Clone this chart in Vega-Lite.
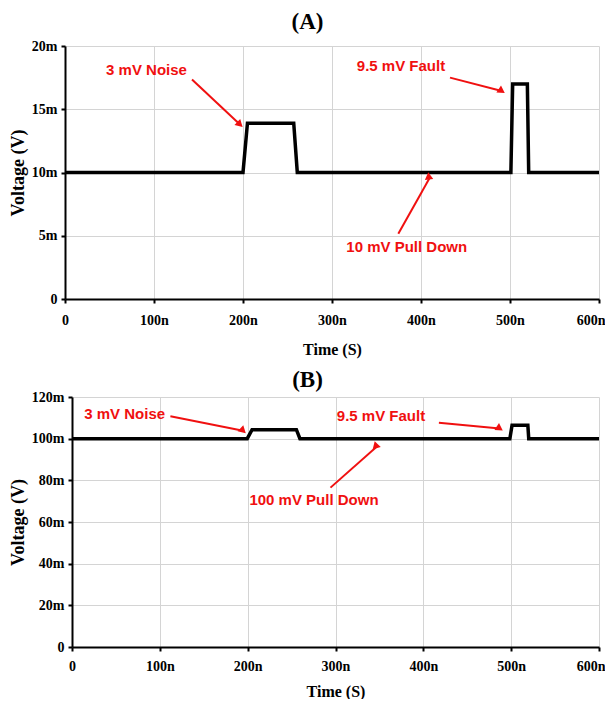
{
  "$schema": "https://vega.github.io/schema/vega-lite/v6.json",
  "background": "white",
  "padding": {"left": 9, "top": 11, "right": 0, "bottom": 0},
  "datasets": {
    "lineA": [
      {"t": 0, "v": 10}, {"t": 200, "v": 10}, {"t": 205, "v": 13.9}, {"t": 257, "v": 13.9}, {"t": 261, "v": 10},
      {"t": 501, "v": 10}, {"t": 503, "v": 17}, {"t": 519.5, "v": 17}, {"t": 521, "v": 10}, {"t": 600, "v": 10}
    ],
    "lineB": [
      {"t": 0, "v": 100}, {"t": 199.5, "v": 100}, {"t": 205, "v": 104.3}, {"t": 255.5, "v": 104.3}, {"t": 259.5, "v": 100},
      {"t": 498.5, "v": 100}, {"t": 501, "v": 106.4}, {"t": 519, "v": 106.4}, {"t": 520, "v": 100}, {"t": 600, "v": 100}
    ],
    "annA": [
      {"label": "3 mV Noise", "tx": 91.6, "ty": 18.1, "x1": 142.7, "y1": 17.35, "x2": 196.6, "y2": 13.8},
      {"label": "9.5 mV Fault", "tx": 377.5, "ty": 18.4, "x1": 432.6, "y1": 17.5, "x2": 490.7, "y2": 16.45},
      {"label": "10 mV Pull Down", "tx": 384, "ty": 4.1, "x1": 374.5, "y1": 5.15, "x2": 410, "y2": 9.6}
    ],
    "annB": [
      {"label": "3 mV Noise", "tx": 60, "ty": 111.8, "x1": 112, "y1": 110.8, "x2": 194.8, "y2": 103.8},
      {"label": "9.5 mV Fault", "tx": 351.8, "ty": 110.8, "x1": 417.7, "y1": 107.6, "x2": 487, "y2": 104.9},
      {"label": "100 mV Pull Down", "tx": 275.5, "ty": 70.4, "x1": 294.3, "y1": 76.5, "x2": 347.5, "y2": 96.4}
    ]
  },
  "spacing": 12,
  "vconcat": [
    {
      "title": {"text": "(A)", "fontSize": 23, "font": "Liberation Serif", "fontWeight": "bold", "color": "black", "frame": "bounds", "anchor": "middle", "offset": 5},
      "width": 527,
      "height": 253,
      "layer": [
        {
          "data": {"name": "lineA"},
          "mark": {"type": "line", "color": "black", "strokeWidth": 3.5, "strokeJoin": "miter"},
          "encoding": {
            "x": {"field": "t", "type": "quantitative", "title": "Time (S)", "scale": {"domain": [0, 600], "nice": false, "range": [-7, 527]},
                  "axis": {"values": [0, 100, 200, 300, 400, 500, 600], "labelExpr": "datum.value == 0 ? '0' : datum.value + 'n'",
                           "labelAlign": {"condition": {"test": "datum.value == 600", "value": "right"}, "value": "center"},
                           "labelOffset": {"condition": {"test": "datum.value == 600", "value": 6}, "value": 0},
                           "labelPadding": 10, "titlePadding": 14, "titleFontSize": 16}},
            "y": {"field": "v", "type": "quantitative", "title": "Voltage (V)", "scale": {"domain": [0, 20], "nice": false},
                  "axis": {"values": [0, 5, 10, 15, 20], "labelExpr": "datum.value == 0 ? '0' : datum.value + 'm'", "labelPadding": 4, "offset": 7, "titleX": -38}}
          }
        },
        {
          "data": {"name": "annA"},
          "mark": {"type": "rule", "color": "#f01010", "strokeWidth": 2},
          "encoding": {
            "x": {"field": "x1", "type": "quantitative", "title": "Time (S)"},
            "y": {"field": "y1", "type": "quantitative", "title": "Voltage (V)"},
            "x2": {"field": "x2"},
            "y2": {"field": "y2"}
          }
        },
        {
          "data": {"name": "annA"},
          "mark": {"type": "point", "shape": "triangle-right", "filled": true, "color": "#f01010", "size": 70, "opacity": 1},
          "encoding": {
            "x": {"field": "x2", "type": "quantitative", "title": "Time (S)"},
            "y": {"field": "y2", "type": "quantitative", "title": "Voltage (V)"},
            "angle": {"field": "label", "type": "nominal", "legend": null,
                      "scale": {"domain": ["3 mV Noise", "9.5 mV Fault", "10 mV Pull Down"], "range": [43, 14, 299]}}
          }
        },
        {
          "data": {"name": "annA"},
          "mark": {"type": "text", "color": "#f01010", "font": "Liberation Sans", "fontWeight": "bold", "fontSize": 15, "align": "center", "baseline": "middle"},
          "encoding": {
            "x": {"field": "tx", "type": "quantitative", "title": "Time (S)"},
            "y": {"field": "ty", "type": "quantitative", "title": "Voltage (V)"},
            "text": {"field": "label"}
          }
        }
      ]
    },
    {
      "title": {"text": "(B)", "fontSize": 23, "font": "Liberation Serif", "fontWeight": "bold", "color": "black", "frame": "bounds", "anchor": "middle", "offset": -2},
      "width": 527,
      "height": 250,
      "layer": [
        {
          "data": {"name": "lineB"},
          "mark": {"type": "line", "color": "black", "strokeWidth": 3.5, "strokeJoin": "miter"},
          "encoding": {
            "x": {"field": "t", "type": "quantitative", "title": "Time (S)", "scale": {"domain": [0, 600], "nice": false},
                  "axis": {"values": [0, 100, 200, 300, 400, 500, 600], "labelExpr": "datum.value == 0 ? '0' : datum.value + 'n'",
                           "labelAlign": {"condition": {"test": "datum.value == 600", "value": "right"}, "value": "center"},
                           "labelOffset": {"condition": {"test": "datum.value == 600", "value": 6}, "value": 0},
                           "labelPadding": 8, "titlePadding": 10, "titleFontSize": 16}},
            "y": {"field": "v", "type": "quantitative", "title": "Voltage (V)", "scale": {"domain": [0, 120], "nice": false},
                  "axis": {"values": [0, 20, 40, 60, 80, 100, 120], "labelExpr": "datum.value == 0 ? '0' : datum.value + 'm'", "labelPadding": 4, "titleX": -45}}
          }
        },
        {
          "data": {"name": "annB"},
          "mark": {"type": "rule", "color": "#f01010", "strokeWidth": 2},
          "encoding": {
            "x": {"field": "x1", "type": "quantitative", "title": "Time (S)"},
            "y": {"field": "y1", "type": "quantitative", "title": "Voltage (V)"},
            "x2": {"field": "x2"},
            "y2": {"field": "y2"}
          }
        },
        {
          "data": {"name": "annB"},
          "mark": {"type": "point", "shape": "triangle-right", "filled": true, "color": "#f01010", "size": 70, "opacity": 1},
          "encoding": {
            "x": {"field": "x2", "type": "quantitative", "title": "Time (S)"},
            "y": {"field": "y2", "type": "quantitative", "title": "Voltage (V)"},
            "angle": {"field": "label", "type": "nominal", "legend": null,
                      "scale": {"domain": ["3 mV Noise", "9.5 mV Fault", "100 mV Pull Down"], "range": [11, 5, 318]}}
          }
        },
        {
          "data": {"name": "annB"},
          "mark": {"type": "text", "color": "#f01010", "font": "Liberation Sans", "fontWeight": "bold", "fontSize": 15, "align": "center", "baseline": "middle"},
          "encoding": {
            "x": {"field": "tx", "type": "quantitative", "title": "Time (S)"},
            "y": {"field": "ty", "type": "quantitative", "title": "Voltage (V)"},
            "text": {"field": "label"}
          }
        }
      ]
    }
  ],
  "config": {
    "view": {"stroke": null},
    "axis": {
      "labelFont": "Liberation Serif", "labelFontWeight": "bold", "labelFontSize": 14, "labelColor": "black",
      "titleFont": "Liberation Serif", "titleFontWeight": "bold", "titleFontSize": 18, "titleColor": "black",
      "domainColor": "black", "domainWidth": 2, "tickColor": "black", "tickWidth": 2, "tickSize": 4,
      "gridColor": "#d4d4d4", "gridWidth": 1
    }
  }
}
